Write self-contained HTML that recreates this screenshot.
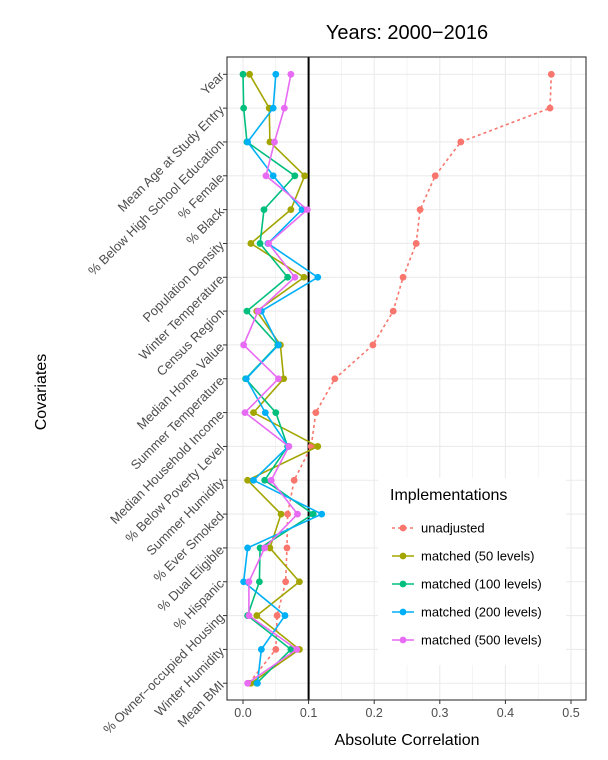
<!DOCTYPE html>
<html><head><meta charset="utf-8"><style>
html,body{margin:0;padding:0;background:#fff;}
svg{display:block;font-family:"Liberation Sans",Arial,sans-serif;}
</style></head><body>
<svg id="chart" width="608" height="760" viewBox="0 0 608 760"></svg>
<script>
const categories=["Year","Mean Age at Study Entry","% Below High School Education","% Female","% Black","Population Density","Winter Temperature","Census Region","Median Home Value","Summer Temperature","Median Household Income","% Below Poverty Level","Summer Humidity","% Ever Smoked","% Dual Eligible","% Hispanic","% Owner\u2212occupied Housing","Winter Humidity","Mean BMI"];
const seriesNames=["unadjusted","matched (50 levels)","matched (100 levels)","matched (200 levels)","matched (500 levels)"];
const unadjusted=[0.470,0.468,0.332,0.293,0.270,0.264,0.244,0.229,0.198,0.140,0.111,0.104,0.078,0.068,0.067,0.065,0.052,0.050,0.009];
const matched50=[0.010,0.040,0.041,0.094,0.073,0.012,0.093,0.021,0.057,0.062,0.016,0.114,0.007,0.058,0.041,0.086,0.021,0.086,0.012];
const matched100=[0.000,0.001,0.006,0.079,0.032,0.026,0.068,0.006,0.053,0.004,0.050,0.068,0.033,0.107,0.026,0.025,0.007,0.073,0.021];
const matched200=[0.050,0.046,0.007,0.046,0.090,0.038,0.114,0.028,0.054,0.005,0.034,0.069,0.016,0.120,0.007,0.001,0.064,0.028,0.022];
const matched500=[0.073,0.063,0.048,0.035,0.098,0.039,0.079,0.023,0.001,0.054,0.003,0.070,0.043,0.083,0.033,0.009,0.009,0.082,0.007];
const xTicks=[0,0.1,0.2,0.3,0.4,0.5];
const xTickLabels=["0.0","0.1","0.2","0.3","0.4","0.5"];
const colors=["#F8766D","#A3A500","#00BF7D","#00B0F6","#E76BF3"];
const allSeries=[unadjusted,matched50,matched100,matched200,matched500];

const NS="http://www.w3.org/2000/svg";
const svg=document.getElementById('chart');
const P={l:227,r:586,t:57,b:700};
const xs=v=>243+v*656;
const ys=i=>74.3+i*33.83;
function el(t,a,parent){const e=document.createElementNS(NS,t);for(const k in a)e.setAttribute(k,a[k]);(parent||svg).appendChild(e);return e;}

const title=el('text',{x:407,y:39,'text-anchor':'middle','font-size':20,fill:'#000'});


title.textContent="Years: 2000\u22122016";

const grid=el('g',{});


for(let v=0;v<=0.5001;v+=0.05){
  const major=Math.abs(Math.round(v*10)-v*10)<1e-6;
  el('line',{x1:xs(v),x2:xs(v),y1:P.t,y2:P.b,stroke:'#ebebeb','stroke-width':major?1.1:0.55},grid);
}
categories.forEach((c,i)=>el('line',{x1:P.l,x2:P.r,y1:ys(i),y2:ys(i),stroke:'#ebebeb','stroke-width':1.1},grid));

const vline=el('line',{x1:xs(0.1),x2:xs(0.1),y1:P.t,y2:P.b,stroke:'#000','stroke-width':2});



allSeries.forEach((data,s)=>{
  const g=el('g',{});
  
  
  const pts=data.map((v,i)=>xs(v)+','+ys(i)).join(' ');
  const line=el('polyline',{points:pts,fill:'none',stroke:colors[s],'stroke-width':1.6});
  if(s===0)line.setAttribute('stroke-dasharray','3,3');
  
  
  data.forEach((v,i)=>{
    const c=el('circle',{cx:xs(v),cy:ys(i),r:3.4,fill:colors[s]},g);
    
    
  });
});

const border=el('rect',{x:P.l,y:P.t,width:P.r-P.l,height:P.b-P.t,fill:'none',stroke:'#333','stroke-width':1.1});



const xa=el('g',{});


xTicks.forEach((v,i)=>{
  el('line',{x1:xs(v),x2:xs(v),y1:P.b,y2:P.b+4,stroke:'#333'},xa);
  const t=el('text',{x:xs(v),y:P.b+17,'text-anchor':'middle','font-size':12.5,fill:'#4d4d4d'},xa);
  
  
  t.textContent=xTickLabels[i];
});
const xt=el('text',{x:407,y:745,'text-anchor':'middle','font-size':16,fill:'#000'});


xt.textContent="Absolute Correlation";

const ya=el('g',{});


categories.forEach((c,i)=>{
  el('line',{x1:P.l-4,x2:P.l,y1:ys(i),y2:ys(i),stroke:'#333'},ya);
  const t=el('text',{x:222,y:ys(i)+4,'text-anchor':'end','font-size':13,fill:'#4d4d4d',transform:`rotate(-45 222 ${ys(i)})`},ya);
  
  
  t.textContent=c;
});
const yt=el('text',{x:46,y:392,'text-anchor':'middle','font-size':16,fill:'#000',transform:'rotate(-90 46 392)'});


yt.textContent="Covariates";

const lg=el('g',{});


el('rect',{x:378,y:478,width:188,height:187,fill:'#fff'},lg);
const lt=el('text',{x:390,y:500,'font-size':16,fill:'#000'},lg);


lt.textContent="Implementations";
seriesNames.forEach((n,s)=>{
  const y=528+s*28;
  const e=el('g',{},lg);
  
  
  const l=el('line',{x1:392,x2:414,y1:y,y2:y,stroke:colors[s],'stroke-width':1.6},e);
  if(s===0)l.setAttribute('stroke-dasharray','3,3');
  el('circle',{cx:403,cy:y,r:3.4,fill:colors[s]},e);
  const t=el('text',{x:421,y:y+4.5,'font-size':13,fill:'#000'},e);
  t.textContent=n;
});
</script>
</body></html>
